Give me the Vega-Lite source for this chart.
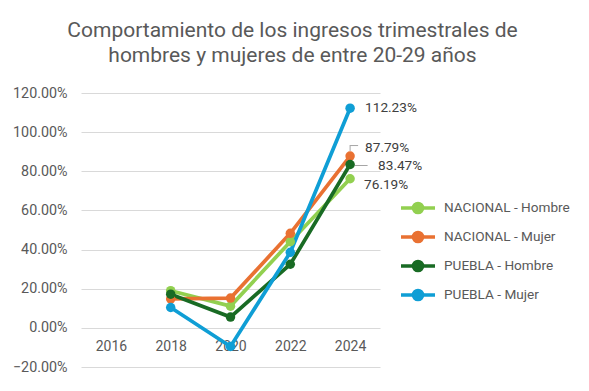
{
  "$schema": "https://vega.github.io/schema/vega-lite/v6.json",
  "width": 299,
  "height": 274,
  "autosize": {"type": "none"},
  "padding": {"left": 81, "top": 93, "right": 209, "bottom": 24},
  "background": "white",
  "config": {
    "view": {"stroke": null, "strokeWidth": 0},
    "axis": {"domain": false, "ticks": false}
  },
  "title": {
    "text": ["Comportamiento de los ingresos trimestrales de", "hombres y mujeres de entre 20-29 años"],
    "anchor": "middle",
    "frame": "group",
    "dx": 62,
    "offset": 20,
    "fontSize": 21,
    "font": "Roboto",
    "fontWeight": "normal",
    "color": "#595959",
    "lineHeight": 25
  },
  "data": {
    "values": [
      {"serie": "NACIONAL - Hombre", "anio": "2018", "valor": 0.190},
      {"serie": "NACIONAL - Hombre", "anio": "2020", "valor": 0.111},
      {"serie": "NACIONAL - Hombre", "anio": "2022", "valor": 0.440},
      {"serie": "NACIONAL - Hombre", "anio": "2024", "valor": 0.7619},
      {"serie": "NACIONAL - Mujer", "anio": "2018", "valor": 0.148},
      {"serie": "NACIONAL - Mujer", "anio": "2020", "valor": 0.152},
      {"serie": "NACIONAL - Mujer", "anio": "2022", "valor": 0.483},
      {"serie": "NACIONAL - Mujer", "anio": "2024", "valor": 0.8779},
      {"serie": "PUEBLA  - Hombre", "anio": "2018", "valor": 0.172},
      {"serie": "PUEBLA  - Hombre", "anio": "2020", "valor": 0.055},
      {"serie": "PUEBLA  - Hombre", "anio": "2022", "valor": 0.325},
      {"serie": "PUEBLA  - Hombre", "anio": "2024", "valor": 0.8347},
      {"serie": "PUEBLA  - Mujer", "anio": "2018", "valor": 0.104},
      {"serie": "PUEBLA  - Mujer", "anio": "2020", "valor": -0.095},
      {"serie": "PUEBLA  - Mujer", "anio": "2022", "valor": 0.386},
      {"serie": "PUEBLA  - Mujer", "anio": "2024", "valor": 1.1223}
    ]
  },
  "encoding": {
    "x": {
      "field": "anio",
      "type": "ordinal",
      "scale": {"type": "point", "domain": ["2016", "2018", "2020", "2022", "2024"], "padding": 0.5},
      "axis": {"title": null, "offset": -39, "labelPadding": 11, "grid": false, "labelAngle": 0, "labelFontSize": 14, "labelFont": "Roboto", "labelColor": "#595959"}
    },
    "y": {
      "field": "valor",
      "type": "quantitative",
      "scale": {"domain": [-0.2, 1.2], "nice": false, "zero": false},
      "axis": {"title": null, "tickCount": 8, "format": ".2%", "grid": true, "gridColor": "#D9D9D9", "labelPadding": 14, "labelFontSize": 14.3, "labelFont": "Roboto", "labelColor": "#595959"}
    }
  },
  "layer": [
    {
      "transform": [{"filter": "datum.anio == '2024' && datum.serie == 'NACIONAL - Mujer'"}],
      "mark": {"type": "tick", "orient": "vertical", "color": "#A6A6A6", "opacity": 1, "size": 6, "thickness": 1, "yOffset": -8},
      "encoding": {}
    },
    {
      "transform": [{"filter": "datum.anio == '2024' && datum.serie == 'NACIONAL - Mujer'"}],
      "mark": {"type": "tick", "orient": "horizontal", "color": "#A6A6A6", "opacity": 1, "size": 8, "thickness": 1, "xOffset": 4, "yOffset": -10.5},
      "encoding": {}
    },
    {
      "transform": [{"filter": "datum.anio == '2024' && datum.serie == 'PUEBLA  - Hombre'"}],
      "mark": {"type": "tick", "orient": "horizontal", "color": "#A6A6A6", "opacity": 1, "size": 13, "thickness": 1, "xOffset": 11, "yOffset": 1},
      "encoding": {}
    },
    {
      "mark": {"type": "line", "strokeWidth": 3.7, "point": {"filled": true, "size": 90}},
      "encoding": {
        "color": {
          "field": "serie",
          "type": "nominal",
          "scale": {"domain": ["NACIONAL - Hombre", "NACIONAL - Mujer", "PUEBLA  - Hombre", "PUEBLA  - Mujer"], "range": ["#92D050", "#E97132", "#196B24", "#0F9ED5"]},
          "legend": {
            "title": null,
            "orient": "none",
            "legendX": 325,
            "legendY": 103,
            "symbolType": "M-1.7,0L1.7,0M-0.45,0A0.45,0.45,0,1,1,0.45,0A0.45,0.45,0,1,1,-0.45,0Z",
            "symbolSize": 400,
            "symbolStrokeWidth": 3.7,
            "labelOffset": 14,
            "labelFontSize": 13.6,
            "labelFont": "Roboto",
            "labelColor": "#595959",
            "rowPadding": 5,
            "encode": {"symbols": {"update": {"fill": {"scale": "color", "field": "value"}, "stroke": {"scale": "color", "field": "value"}, "opacity": {"value": 1}}}}
          }
        }
      }
    },
    {
      "transform": [{"filter": "datum.anio == '2024' && datum.serie == 'PUEBLA  - Mujer'"}],
      "mark": {"type": "text", "align": "left", "baseline": "middle", "dx": 15, "dy": 0, "fontSize": 13.6, "font": "Roboto", "color": "#404040"},
      "encoding": {"text": {"field": "valor", "type": "quantitative", "format": ".2%"}}
    },
    {
      "transform": [{"filter": "datum.anio == '2024' && datum.serie == 'NACIONAL - Mujer'"}],
      "mark": {"type": "text", "align": "left", "baseline": "middle", "dx": 15, "dy": -8, "fontSize": 13.6, "font": "Roboto", "color": "#404040"},
      "encoding": {"text": {"field": "valor", "type": "quantitative", "format": ".2%"}}
    },
    {
      "transform": [{"filter": "datum.anio == '2024' && datum.serie == 'PUEBLA  - Hombre'"}],
      "mark": {"type": "text", "align": "left", "baseline": "middle", "dx": 28, "dy": 2, "fontSize": 13.6, "font": "Roboto", "color": "#404040"},
      "encoding": {"text": {"field": "valor", "type": "quantitative", "format": ".2%"}}
    },
    {
      "transform": [{"filter": "datum.anio == '2024' && datum.serie == 'NACIONAL - Hombre'"}],
      "mark": {"type": "text", "align": "left", "baseline": "middle", "dx": 14, "dy": 6, "fontSize": 13.6, "font": "Roboto", "color": "#404040"},
      "encoding": {"text": {"field": "valor", "type": "quantitative", "format": ".2%"}}
    }
  ]
}
